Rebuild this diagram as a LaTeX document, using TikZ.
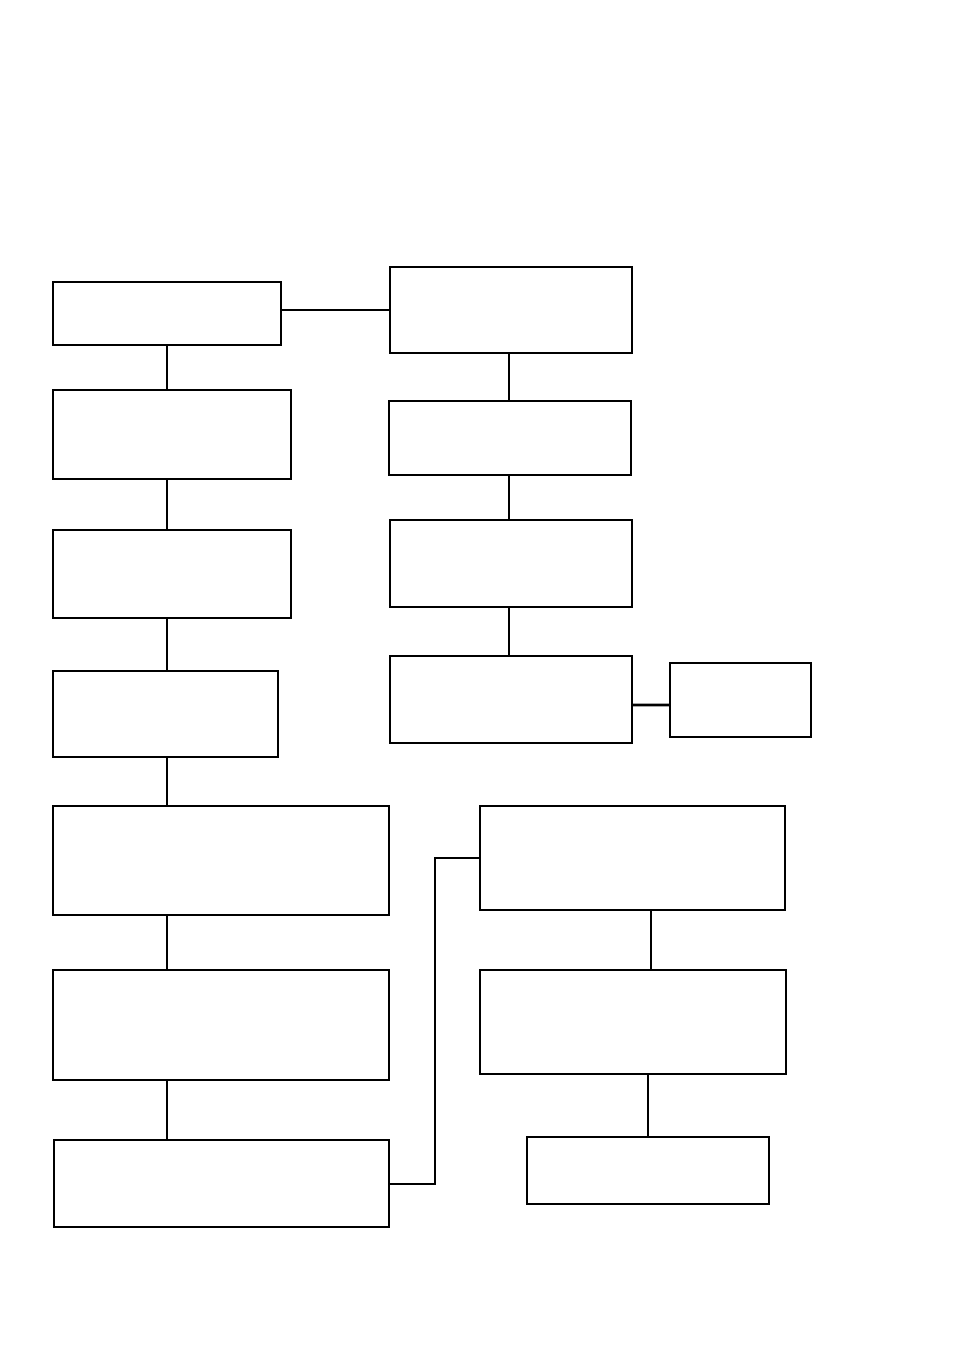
\documentclass[tikz,border=0pt]{standalone}
\usetikzlibrary{positioning}

\tikzset{
  box/.style={draw, line width=1.1pt, inner sep=0pt, outer sep=0pt, anchor=north west},
  heavybox/.style={box, line width=1.5pt},
  link/.style={line width=0.9pt}
}

\begin{document}
\begin{tikzpicture}[x=0.02cm, y=-0.02cm]
  \useasboundingbox (0,0) rectangle (953,1352);
  % left column
  \node[box, minimum width=4.56cm, minimum height=1.26cm] (l1) at (53,282) {};
  \node[box, minimum width=4.76cm, minimum height=1.78cm] (l2) at (53,390) {};
  \node[box, minimum width=4.76cm, minimum height=1.76cm] (l3) at (53,530) {};
  \node[box, minimum width=4.50cm, minimum height=1.72cm] (l4) at (53,671) {};
  \node[box, minimum width=6.72cm, minimum height=2.18cm] (l5) at (53,806) {};
  \node[box, minimum width=6.72cm, minimum height=2.20cm] (l6) at (53,970) {};
  \node[heavybox, minimum width=6.70cm, minimum height=1.74cm] (l7) at (54,1140) {};
  % right column
  \node[heavybox, minimum width=4.84cm, minimum height=1.72cm] (r1) at (390,267) {};
  \node[box, minimum width=4.84cm, minimum height=1.48cm] (r2) at (389,401) {};
  \node[box, minimum width=4.84cm, minimum height=1.74cm] (r3) at (390,520) {};
  \node[box, minimum width=4.84cm, minimum height=1.74cm] (r4) at (390,656) {};
  \node[heavybox, minimum width=2.82cm, minimum height=1.48cm] (side) at (670,663) {};
  % middle column
  \node[box, minimum width=6.10cm, minimum height=2.08cm] (m1) at (480,806) {};
  \node[box, minimum width=6.12cm, minimum height=2.08cm] (m2) at (480,970) {};
  \node[box, minimum width=4.84cm, minimum height=1.34cm] (m3) at (527,1137) {};

  \draw[link] (l1.east |- r1.west) -- (r1.west);
  \draw[link] (l1.south) -- (l1.south |- l2.north);
  \draw[link] (l1.south |- l2.south) -- (l1.south |- l3.north);
  \draw[link] (l1.south |- l3.south) -- (l1.south |- l4.north);
  \draw[link] (l1.south |- l4.south) -- (l1.south |- l5.north);
  \draw[link] (l1.south |- l5.south) -- (l1.south |- l6.north);
  \draw[link] (l1.south |- l6.south) -- (l1.south |- l7.north);

  \coordinate (rx) at ([xshift=-0.04cm]r1.south);
  \draw[link] (rx) -- (rx |- r2.north);
  \draw[link] (rx |- r2.south) -- (rx |- r3.north);
  \draw[link] (rx |- r3.south) -- (rx |- r4.north);
  \draw[line width=1.6pt] (r4.east |- side.west) ++(0,5) -- ([yshift=-0.1cm]side.west);

  \coordinate (bend) at (435,1184);
  \draw[link] (l7.east |- bend) -- (bend) |- (m1.west);
  \draw[link] ([xshift=0.37cm]m1.south) -- ([xshift=0.37cm]m1.south |- m2.north);
  \draw[link] (m3.north |- m2.south) -- (m3.north);
\end{tikzpicture}
\end{document}
